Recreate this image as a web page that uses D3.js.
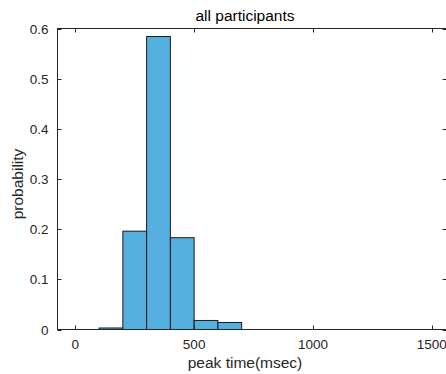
<!DOCTYPE html>
<html>
<head>
<meta charset="utf-8">
<script src="https://cdn.jsdelivr.net/npm/d3@7"></script>
<style>
  body { margin: 0; background: #fff; }
  svg { display: block; font-family: "Liberation Sans", Arial, sans-serif; }
</style>
</head>
<body>
<script>
// histogram bins (msec) and probabilities
const binEdges = [100, 200, 300, 400, 500, 600, 700];
const probs = [0.003, 0.196, 0.584, 0.183, 0.018, 0.014];
const xTicks = [0, 500, 1000, 1500];
const yTicks = [0, 0.1, 0.2, 0.3, 0.4, 0.5, 0.6];

const width = 446, height = 374;
const plotLeft = 57.5, plotRight = 446.5, plotTop = 28.5, plotBottom = 329.5;
const ink = "#262626";

const svg = d3.select("body").append("svg")
  .attr("width", width)
  .attr("height", height);

const x = d3.scaleLinear().domain([-75, 1562]).range([plotLeft, plotRight]);
const y = d3.scaleLinear().domain([0, 0.6]).range([plotBottom, plotTop]);

const bins = probs.map((p, i) => ({ x0: binEdges[i], x1: binEdges[i + 1], p }));

svg.append("g").selectAll("rect")
  .data(bins)
  .enter().append("rect")
  .attr("x", d => x(d.x0))
  .attr("y", d => y(d.p))
  .attr("width", d => x(d.x1) - x(d.x0))
  .attr("height", d => y(0) - y(d.p))
  .attr("fill", "#55b0e0")
  .attr("stroke", "#1a1a1a")
  .attr("stroke-width", 1);

// box
svg.append("rect")
  .attr("x", plotLeft).attr("y", plotTop)
  .attr("width", plotRight - plotLeft).attr("height", plotBottom - plotTop)
  .attr("fill", "none").attr("stroke", ink).attr("stroke-width", 1);

const tl = 4;
const g = svg.append("g").attr("stroke", ink).attr("stroke-width", 1);

xTicks.forEach(t => {
  const px = Math.round(x(t)) + 0.5;
  g.append("line").attr("x1", px).attr("x2", px).attr("y1", plotBottom).attr("y2", plotBottom - tl);
  g.append("line").attr("x1", px).attr("x2", px).attr("y1", plotTop).attr("y2", plotTop + tl);
});
yTicks.forEach(t => {
  const py = Math.round(y(t)) + 0.5;
  g.append("line").attr("x1", plotLeft).attr("x2", plotLeft + tl).attr("y1", py).attr("y2", py);
  g.append("line").attr("x1", plotRight).attr("x2", plotRight - tl).attr("y1", py).attr("y2", py);
});

svg.append("g").selectAll("text")
  .data(xTicks)
  .enter().append("text")
  .attr("x", d => x(d))
  .attr("y", 348.5)
  .attr("text-anchor", "middle")
  .attr("font-size", 13.5)
  .attr("fill", ink)
  .text(d => d);

svg.append("g").selectAll("text")
  .data(yTicks)
  .enter().append("text")
  .attr("x", 48.5)
  .attr("y", d => y(d) + 5)
  .attr("text-anchor", "end")
  .attr("font-size", 13.5)
  .attr("fill", ink)
  .text(d => d);

svg.append("text")
  .attr("x", 245).attr("y", 20.5)
  .attr("text-anchor", "middle")
  .attr("font-size", 15.5)
  .attr("fill", "#000")
  .text("all participants");

svg.append("text")
  .attr("x", 245).attr("y", 368)
  .attr("text-anchor", "middle")
  .attr("font-size", 15.5)
  .attr("fill", ink)
  .text("peak time(msec)");

svg.append("text")
  .attr("transform", "translate(22.5, 184) rotate(-90)")
  .attr("text-anchor", "middle")
  .attr("font-size", 15.5)
  .attr("fill", ink)
  .text("probability");
</script>
</body>
</html>
